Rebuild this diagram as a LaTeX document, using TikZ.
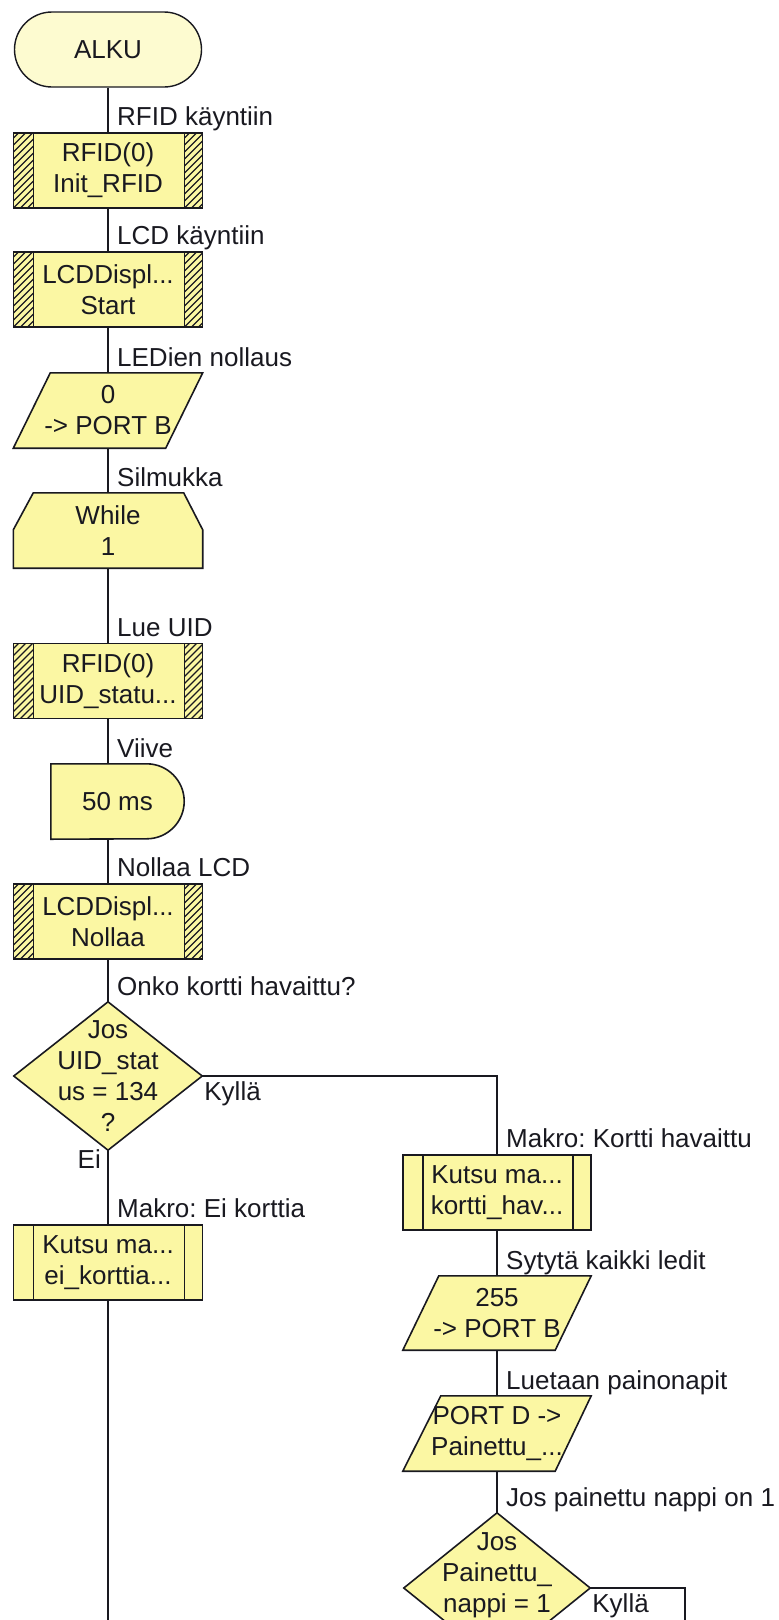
\documentclass[tikz,border=0pt]{standalone}
\usepackage{fontspec}
\setmainfont{Liberation Sans}
\usetikzlibrary{backgrounds}
\frenchspacing

\definecolor{boxfill}{RGB}{251,247,163}
\definecolor{startfill}{RGB}{253,251,208}
\definecolor{ink}{RGB}{25,25,32}

\begin{document}
\begin{tikzpicture}[x=1pt,y=-1pt,
  every node/.style={font=\fontsize{26}{31}\selectfont, text=ink, inner sep=0pt},
  flowline/.style={draw=ink, line width=1.6pt},
  shapeline/.style={draw=ink, line width=1.6pt, fill=boxfill, line join=miter},
  slot/.style={rectangle, minimum width=189pt, minimum height=75pt, align=center},
  startbox/.style={slot, minimum width=187pt, rounded corners=37.5pt,
    draw=ink, line width=1.4pt, fill=startfill},
  macrobox/.style={slot, draw=ink, line width=1.6pt, fill=boxfill,
    path picture={
      \draw[ink, line width=1.6pt]
        ([xshift=20pt]path picture bounding box.north west) -- ([xshift=20pt]path picture bounding box.south west)
        ([xshift=-18pt]path picture bounding box.north east) -- ([xshift=-18pt]path picture bounding box.south east);
    }},
  hatchbox/.style={slot, draw=ink, line width=1.6pt, fill=boxfill,
    path picture={
      \begin{scope}
        \clip (path picture bounding box.south west) rectangle ([xshift=20pt]path picture bounding box.north west);
        \foreach \k in {0,...,14}
          \draw[ink, line width=1.2pt] ([yshift=\k*7pt-21pt]path picture bounding box.south west) -- ++(25pt,25pt);
      \end{scope}
      \begin{scope}
        \clip ([xshift=-18pt]path picture bounding box.south east) rectangle (path picture bounding box.north east);
        \foreach \k in {0,...,14}
          \draw[ink, line width=1.2pt] ([xshift=-18pt,yshift=\k*7pt-21pt]path picture bounding box.south east) -- ++(25pt,25pt);
      \end{scope}
      \draw[ink, line width=1.6pt]
        ([xshift=20pt]path picture bounding box.north west) -- ([xshift=20pt]path picture bounding box.south west)
        ([xshift=-18pt]path picture bounding box.north east) -- ([xshift=-18pt]path picture bounding box.south east);
    }},
  conlbl/.style={anchor=base west, xshift=9pt, yshift=6.5pt},
  yeslbl/.style={anchor=base west, xshift=2pt, yshift=-24pt},
  nolbl/.style={anchor=base east, xshift=-7pt, yshift=-18pt}
]
\useasboundingbox (0,0) rectangle (779,1620);

% ---- main column ----
\node[startbox] (start) at (108,49.5) {ALKU};
\node[hatchbox] (rfid1) at (108,170.5) {RFID(0)\\Init\_RFID};
\node[hatchbox] (lcd1) at (108,289.5) {LCDDispl...\\Start};
\node[slot] (p0) at (108,410.5) {0\\-> PORT B};
\node[slot] (loop) at (108,530.5) {While\\1};
\node[hatchbox] (rfid2) at (108,681) {RFID(0)\\UID\_statu...};
\node[slot, minimum width=133pt] (wait) at (117.5,801.5) {50 ms};
\node[hatchbox] (lcd2) at (108,921.5) {LCDDispl...\\Nollaa};
\node[slot, minimum width=188pt, minimum height=148pt] (d1) at (108,1076) {Jos\\UID\_stat\\us = 134\\?};
\node[macrobox] (k1) at (108,1262.5) {Kutsu ma...\\ei\_korttia...};

% ---- card-detected branch ----
\node[macrobox, minimum width=188pt] (k2) at (497,1192.5) {Kutsu ma...\\kortti\_hav...};
\node[slot, minimum width=188pt, minimum height=74pt] (p255) at (497,1313) {255\\-> PORT B};
\node[slot, minimum width=188pt] (pd) at (497,1433.5) {PORT D ->\\Painettu\_...};
\node[slot, minimum width=186pt, minimum height=150pt] (d2) at (497,1588) {Jos\\Painettu\_\\nappi = 1\\\mbox{}};

\coordinate (noend) at (108,1620);
\coordinate (yesend) at (685,1620);

% ---- outlines of the non-rectangular symbols ----
\begin{scope}[on background layer]
  \clip (0,0) rectangle (779,1620);
  \path[shapeline] ([xshift=37pt]p0.north west) -- (p0.north east)
    -- ([xshift=-37pt]p0.south east) -- (p0.south west) -- cycle;
  \path[shapeline] ([xshift=20pt]loop.north west) -- ([xshift=-19pt]loop.north east)
    -- ([yshift=-37pt]loop.north east) -- (loop.south east) -- (loop.south west)
    -- ([yshift=-37pt]loop.north west) -- cycle;
  \path[shapeline] (wait.north west) -- ([xshift=-37.5pt]wait.north east)
    arc[start angle=90, end angle=-90, radius=37.5pt] -- (wait.south west) -- cycle;
  \path[shapeline] (d1.north) -- (d1.east) -- (d1.south) -- (d1.west) -- cycle;
  \path[shapeline] ([xshift=36pt]p255.north west) -- (p255.north east)
    -- ([xshift=-36pt]p255.south east) -- (p255.south west) -- cycle;
  \path[shapeline] ([xshift=38pt]pd.north west) -- (pd.north east)
    -- ([xshift=-36pt]pd.south east) -- (pd.south west) -- cycle;
  \path[shapeline] (d2.north) -- (d2.east) -- (d2.south) -- (d2.west) -- cycle;
\end{scope}

% ---- connectors ----
\draw[flowline] (start.south) -- (rfid1.north);
\draw[flowline] (rfid1.south) -- (lcd1.north);
\draw[flowline] (lcd1.south) -- (p0.north);
\draw[flowline] (p0.south) -- (loop.north);
\draw[flowline] (loop.south) -- (rfid2.north);
\draw[flowline] (rfid2.south) -- (rfid2.south |- wait.north);
\draw[flowline] (lcd2.north |- wait.south) -- (lcd2.north);
\draw[flowline] (lcd2.south) -- (d1.north);
\draw[flowline] (d1.south) -- (k1.north);
\draw[flowline] (k1.south) -- (noend);
\draw[flowline] (d1.east) -| (k2.north);
\draw[flowline] (k2.south) -- (p255.north);
\draw[flowline] (p255.south) -- (pd.north);
\draw[flowline] (pd.south) -- (d2.north);
\draw[flowline] (d2.east) -| (yesend);

% ---- connector labels ----
\node[conlbl] at (rfid1.north) {RFID käyntiin};
\node[conlbl] at (lcd1.north) {LCD käyntiin};
\node[conlbl] at (p0.north) {LEDien nollaus};
\node[conlbl] at (loop.north) {Silmukka};
\node[conlbl] at (rfid2.north) {Lue UID};
\node[conlbl] at (rfid2.south |- wait.north) {Viive};
\node[conlbl] at (lcd2.north) {Nollaa LCD};
\node[conlbl] at (d1.north) {Onko kortti havaittu?};
\node[yeslbl] at (d1.east) {Kyllä};
\node[nolbl] at (d1.south) {Ei};
\node[conlbl] at (k1.north) {Makro: Ei korttia};
\node[conlbl] at (k2.north) {Makro: Kortti havaittu};
\node[conlbl] at (p255.north) {Sytytä kaikki ledit};
\node[conlbl] at (pd.north) {Luetaan painonapit};
\node[conlbl] at (d2.north) {Jos painettu nappi on 1};
\node[yeslbl] at (d2.east) {Kyllä};
\end{tikzpicture}
\end{document}
